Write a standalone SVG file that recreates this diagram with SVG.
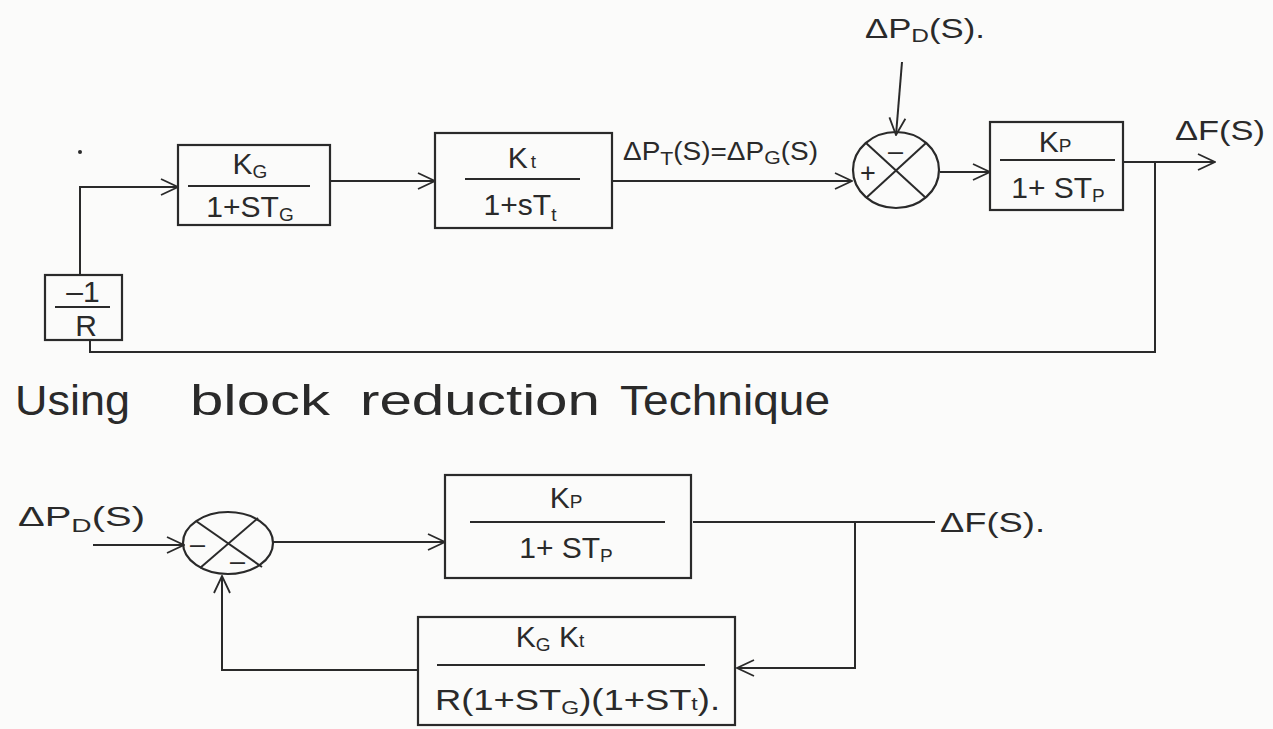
<svg xmlns="http://www.w3.org/2000/svg" width="1273" height="729" viewBox="0 0 1273 729">
<defs>
<marker id="arr" viewBox="0 0 20 20" refX="19" refY="10" markerWidth="20" markerHeight="20" markerUnits="userSpaceOnUse" orient="auto">
<path d="M2 2 L19 10 L2 18" fill="none" stroke="#2a2a2a" stroke-width="1.8"/>
</marker>
</defs>
<style>
.bx{fill:none;stroke:#2a2a2a;stroke-width:2.2}
.ln{fill:none;stroke:#2a2a2a;stroke-width:2}
.t{font-family:"Liberation Sans",Arial,sans-serif;fill:#2a2a2a;font-size:27px}
.b{font-family:"Liberation Sans",Arial,sans-serif;fill:#2a2a2a;font-size:30px}
.m{font-family:"Liberation Sans",Arial,sans-serif;fill:#2a2a2a;font-size:25px}
.sub{font-size:19px}
.h{font-family:"Liberation Sans",Arial,sans-serif;fill:#2a2a2a;font-size:42px}
</style>
<rect width="1273" height="729" fill="#fbfbfa"/>
<circle cx="80" cy="152" r="2" fill="#2a2a2a"/>

<g id="connectors">
<path class="ln" d="M80 275 V187 H178" marker-end="url(#arr)"/>
<path class="ln" d="M330 181 H435" marker-end="url(#arr)"/>
<path class="ln" d="M612 181 H852" marker-end="url(#arr)"/>
<path class="ln" d="M902 62 L896 135" marker-end="url(#arr)"/>
<path class="ln" d="M940 172 H990" marker-end="url(#arr)"/>
<path class="ln" d="M1123 162 H1215" marker-end="url(#arr)"/>
<path class="ln" d="M1155 162 V352 H90 V340"/>
<path class="ln" d="M93 545 H184" marker-end="url(#arr)"/>
<path class="ln" d="M273 542 H445" marker-end="url(#arr)"/>
<path class="ln" d="M693 522 H935"/>
<path class="ln" d="M855 522 V668 H737" marker-end="url(#arr)"/>
<path class="ln" d="M418 670 H222 V576" marker-end="url(#arr)"/>
</g>

<g id="node-R">
<rect class="bx" x="45" y="275" width="77" height="65"/>
<text class="b" x="83" y="302" text-anchor="middle">–1</text>
<line class="ln" x1="55" y1="307" x2="110" y2="307"/>
<text class="b" x="86" y="336" text-anchor="middle">R</text>
</g>

<g id="node-gov">
<rect class="bx" x="178" y="145" width="152" height="80"/>
<text class="b" x="250" y="174" text-anchor="middle">K<tspan class="sub" dy="4">G</tspan></text>
<line class="ln" x1="188" y1="186" x2="310" y2="186"/>
<text class="b" x="250" y="217" text-anchor="middle">1+ST<tspan class="sub" dy="4">G</tspan></text>
</g>

<g id="node-turb">
<rect class="bx" x="435" y="133" width="177" height="95"/>
<text class="b" x="522" y="168" text-anchor="middle">K<tspan class="sub" dx="3">t</tspan></text>
<line class="ln" x1="465" y1="179" x2="580" y2="179"/>
<text class="b" x="520" y="215" text-anchor="middle">1+sT<tspan class="sub" dy="6">t</tspan></text>
</g>
<text class="m" x="623" y="160" textLength="195" lengthAdjust="spacingAndGlyphs">ΔP<tspan class="sub" dy="5">T</tspan><tspan dy="-5">(S)=ΔP</tspan><tspan class="sub" dy="4">G</tspan><tspan dy="-4">(S)</tspan></text>

<g id="node-sum1">
<ellipse class="bx" cx="896" cy="170" rx="43" ry="38"/>
<line class="ln" x1="866" y1="143" x2="926" y2="198"/>
<line class="ln" x1="866" y1="198" x2="926" y2="143"/>
<text class="t" x="888" y="160">–</text>
<text class="t" x="860" y="182">+</text>
</g>
<text class="t" x="865" y="38" textLength="120" lengthAdjust="spacingAndGlyphs">ΔP<tspan class="sub" dy="4">D</tspan><tspan dy="-4">(S).</tspan></text>

<g id="node-plant">
<rect class="bx" x="990" y="122" width="133" height="88"/>
<text class="b" x="1055" y="152" text-anchor="middle">K<tspan class="sub">P</tspan></text>
<line class="ln" x1="1000" y1="160" x2="1115" y2="160"/>
<text class="b" x="1058" y="198" text-anchor="middle">1+ ST<tspan class="sub" dy="4">P</tspan></text>
</g>
<text class="t" x="1175" y="140" textLength="90" lengthAdjust="spacingAndGlyphs">ΔF(S)</text>

<g id="heading">
<text class="h" x="15" y="415" textLength="115" lengthAdjust="spacingAndGlyphs">Using</text>
<text class="h" x="190" y="415" textLength="140" lengthAdjust="spacingAndGlyphs">block</text>
<text class="h" x="360" y="415" textLength="240" lengthAdjust="spacingAndGlyphs">reduction</text>
<text class="h" x="620" y="415" textLength="210" lengthAdjust="spacingAndGlyphs">Technique</text>
</g>

<text class="t" x="18" y="526" textLength="127" lengthAdjust="spacingAndGlyphs">ΔP<tspan class="sub" dy="6">D</tspan><tspan dy="-6">(S)</tspan></text>

<g id="node-sum2">
<ellipse class="bx" cx="228" cy="543" rx="45" ry="31"/>
<line class="ln" x1="196" y1="521" x2="262" y2="567"/>
<line class="ln" x1="200" y1="568" x2="258" y2="518"/>
<text class="t" x="190" y="553">–</text>
<text class="t" x="230" y="570">–</text>
</g>

<g id="node-plant2">
<rect class="bx" x="445" y="475" width="246" height="103"/>
<text class="b" x="566" y="508" text-anchor="middle">K<tspan class="sub">P</tspan></text>
<line class="ln" x1="470" y1="522" x2="665" y2="522"/>
<text class="b" x="566" y="558" text-anchor="middle">1+  ST<tspan class="sub" dy="4">P</tspan></text>
</g>
<text class="t" x="940" y="532" textLength="105" lengthAdjust="spacingAndGlyphs">ΔF(S).</text>

<g id="node-fb">
<rect class="bx" x="418" y="617" width="317" height="108"/>
<text class="b" x="550" y="647" text-anchor="middle">K<tspan class="sub" dy="4">G</tspan><tspan dy="-4"> K</tspan><tspan class="sub">t</tspan></text>
<line class="ln" x1="437" y1="665" x2="705" y2="665"/>
<text class="b" x="435" y="710" textLength="285" lengthAdjust="spacingAndGlyphs">R(1+ST<tspan class="sub" dy="4">G</tspan><tspan dy="-4">)(1+ST</tspan><tspan class="sub">t</tspan><tspan>).</tspan></text>
</g>
</svg>
